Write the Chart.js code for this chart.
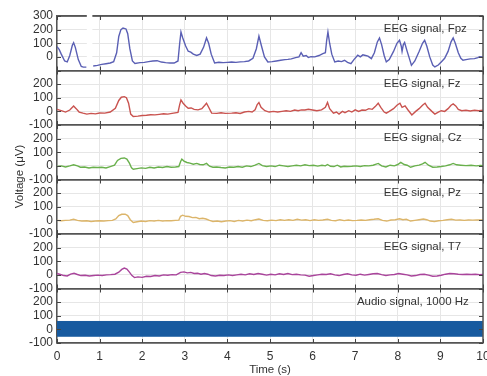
<!DOCTYPE html>
<html><head><meta charset="utf-8">
<script src="https://cdn.jsdelivr.net/npm/chart.js@4.4.1/dist/chart.umd.min.js"></script>
<style>html,body{margin:0;padding:0;background:#fff}#wrap{width:487px;height:376px;position:relative}canvas{display:block}</style>
</head><body><div id="wrap"><canvas id="c" width="487" height="376"></canvas></div>
<script>
// ---- data ----
const xTickValues = [0,1,2,3,4,5,6,7,8,9,10];
const panelLabels = ['EEG signal, Fpz','EEG signal, Fz','EEG signal, Cz','EEG signal, Pz','EEG signal, T7','Audio signal, 1000 Hz'];
const yLabel = 'Voltage (\u03bcV)';
const xLabel = 'Time (s)';

const fpzTime = [0.00,0.05,0.10,0.18,0.24,0.30,0.36,0.39,0.43,0.50,0.57,0.62,0.69,0.77,0.85,0.95,1.05,1.15,1.25,1.33,1.40,1.45,1.50,1.55,1.62,1.66,1.71,1.77,1.83,1.95,2.05,2.15,2.25,2.35,2.45,2.55,2.65,2.75,2.84,2.88,2.91,2.95,3.02,3.08,3.14,3.20,3.28,3.36,3.44,3.51,3.56,3.62,3.70,3.80,3.90,4.00,4.10,4.20,4.30,4.40,4.50,4.60,4.68,4.74,4.80,4.87,4.95,5.05,5.15,5.25,5.35,5.42,5.50,5.60,5.68,5.73,5.78,5.85,5.90,5.96,6.05,6.15,6.24,6.30,6.33,6.36,6.40,6.45,6.52,6.60,6.68,6.75,6.82,6.90,6.97,7.06,7.12,7.18,7.22,7.30,7.38,7.45,7.52,7.57,7.62,7.68,7.73,7.80,7.90,7.98,8.04,8.08,8.10,8.13,8.16,8.22,8.28,8.32,8.40,8.50,8.58,8.63,8.68,8.75,8.82,8.87,8.95,9.02,9.10,9.18,9.25,9.30,9.35,9.42,9.48,9.53,9.60,9.70,9.80,9.88,9.92,10.00];
const fpzValues = [75,55,20,-30,-37,10,85,104,70,-20,-70,-75,-75,null,-67,-62,-55,-50,-45,-35,30,150,200,212,205,170,60,-30,-48,-42,-40,-35,-30,-28,-38,-42,-45,-45,-30,100,183,140,80,41,35,20,10,20,70,139,100,20,-45,-40,-42,-40,-38,-40,-37,-35,-30,-10,60,153,80,0,-37,-35,-30,-25,-20,-18,-15,-5,0,31,5,10,-5,2,0,10,24,30,120,183,100,20,-37,-30,-35,-25,-40,-50,-20,12,0,15,12,5,-13,30,110,139,90,10,-37,-20,40,100,122,80,40,90,105,40,-20,-62,-30,40,100,122,80,0,-60,-74,-60,-37,-10,40,110,139,100,30,-10,-25,-20,-15,-13,-5,2,0];

const fzTime = [0.00,0.10,0.20,0.30,0.39,0.45,0.52,0.61,0.70,0.80,0.90,1.00,1.12,1.25,1.37,1.45,1.51,1.58,1.63,1.68,1.73,1.79,1.90,2.00,2.10,2.20,2.30,2.40,2.50,2.60,2.70,2.84,2.88,2.91,2.96,3.02,3.08,3.15,3.22,3.31,3.40,3.47,3.51,3.56,3.63,3.75,3.85,3.95,4.10,4.20,4.30,4.40,4.50,4.58,4.65,4.70,4.74,4.79,4.88,4.98,5.08,5.18,5.28,5.38,5.48,5.58,5.66,5.74,5.82,5.90,6.00,6.10,6.21,6.30,6.35,6.40,6.49,6.56,6.62,6.70,6.76,6.85,6.92,7.00,7.08,7.16,7.24,7.32,7.40,7.47,7.54,7.60,7.68,7.73,7.80,7.90,7.98,8.05,8.10,8.17,8.24,8.33,8.42,8.50,8.58,8.64,8.70,8.80,8.87,8.95,9.02,9.10,9.18,9.25,9.30,9.36,9.42,9.50,9.60,9.70,9.80,9.90,10.00];
const fzValues = [15,5,-5,10,40,20,-5,-13,-20,-15,-18,-12,-13,-5,23,80,104,108,100,60,-20,-38,-35,-30,-28,-25,-26,-22,-18,-20,-15,-8,50,84,60,40,23,25,15,11,20,45,60,30,-13,-15,-10,-15,-13,-10,-15,-5,0,-5,11,50,65,30,5,-5,0,-5,0,5,0,10,5,11,10,15,10,5,11,30,65,20,-13,-5,-20,0,-10,5,-5,11,0,10,8,20,15,35,60,30,-5,-13,0,20,45,60,30,40,10,-26,0,20,45,60,30,0,-20,-5,5,0,20,45,55,40,15,5,8,3,8,5,8];

const czTime = [0.00,0.10,0.20,0.30,0.39,0.48,0.55,0.65,0.75,0.85,0.95,1.05,1.15,1.25,1.35,1.42,1.50,1.58,1.64,1.70,1.75,1.79,1.88,1.98,2.08,2.18,2.28,2.38,2.48,2.58,2.68,2.78,2.86,2.90,2.93,2.98,3.05,3.12,3.20,3.28,3.35,3.43,3.51,3.58,3.66,3.75,3.85,3.95,4.05,4.15,4.25,4.35,4.45,4.55,4.65,4.74,4.82,4.92,5.02,5.12,5.22,5.32,5.42,5.52,5.62,5.72,5.82,5.92,6.02,6.12,6.22,6.30,6.35,6.42,6.50,6.58,6.66,6.74,6.82,6.92,7.02,7.12,7.22,7.32,7.42,7.54,7.62,7.72,7.82,7.92,8.00,8.07,8.15,8.22,8.30,8.40,8.50,8.58,8.64,8.72,8.82,8.92,9.02,9.12,9.22,9.30,9.38,9.48,9.60,9.72,9.84,9.94,10.00];
const czValues = [-5,0,-8,0,8,0,-10,-8,-15,-10,-12,-10,-15,-5,5,40,55,58,50,20,-15,-25,-20,-15,-18,-10,-15,-8,-12,-5,-10,-8,-5,30,50,35,25,20,12,18,10,8,18,-2,-10,-8,-12,-15,-8,-10,-5,-10,0,-5,5,18,2,-5,0,-5,5,0,-5,0,5,0,8,2,5,-2,5,0,10,-3,-5,5,-8,-3,-5,-3,0,-5,2,0,5,18,0,-8,5,0,10,26,10,5,-10,0,5,15,26,5,-10,-8,-5,0,8,18,8,5,2,5,0,3,2];

const pzTime = [0.00,0.10,0.20,0.30,0.39,0.48,0.58,0.70,0.80,0.90,1.00,1.10,1.20,1.30,1.38,1.45,1.52,1.60,1.66,1.72,1.79,1.88,1.98,2.08,2.18,2.28,2.38,2.48,2.58,2.68,2.78,2.86,2.90,2.95,3.02,3.10,3.18,3.26,3.34,3.42,3.50,3.58,3.66,3.76,3.86,3.96,4.06,4.16,4.26,4.36,4.46,4.56,4.66,4.74,4.84,4.94,5.04,5.14,5.24,5.34,5.44,5.54,5.64,5.74,5.84,5.94,6.04,6.14,6.24,6.35,6.44,6.54,6.64,6.74,6.84,6.94,7.04,7.14,7.24,7.34,7.44,7.54,7.64,7.74,7.84,7.94,8.04,8.12,8.20,8.30,8.40,8.50,8.60,8.68,8.76,8.86,8.96,9.06,9.16,9.26,9.36,9.46,9.56,9.66,9.76,9.86,10.00];
const pzValues = [0,-3,0,2,8,0,-5,-3,-8,-5,-3,-5,-2,0,10,35,45,45,35,5,-15,-10,-5,-8,-2,-5,0,-5,-2,-3,0,2,30,38,30,28,20,22,12,15,10,0,-8,-5,-10,-5,-2,-8,0,-5,2,-3,5,10,0,-3,2,-2,5,0,5,0,8,2,5,-2,5,0,3,8,0,-3,5,-2,3,-2,0,3,0,5,8,12,0,-5,3,5,12,5,8,-5,0,5,10,5,-5,-8,-3,0,5,8,2,3,0,3,2,4,3];

const t7Time = [0.00,0.08,0.16,0.24,0.32,0.40,0.48,0.56,0.66,0.76,0.86,0.96,1.06,1.16,1.26,1.36,1.45,1.52,1.58,1.64,1.70,1.76,1.82,1.90,2.00,2.10,2.20,2.30,2.40,2.50,2.60,2.70,2.80,2.90,2.98,3.06,3.14,3.22,3.30,3.38,3.46,3.54,3.62,3.72,3.82,3.92,4.02,4.12,4.22,4.32,4.42,4.52,4.62,4.72,4.82,4.92,5.02,5.12,5.22,5.32,5.42,5.52,5.62,5.72,5.82,5.92,6.02,6.12,6.22,6.32,6.42,6.52,6.62,6.72,6.82,6.92,7.02,7.12,7.22,7.32,7.42,7.52,7.62,7.72,7.82,7.92,8.02,8.12,8.22,8.32,8.42,8.52,8.62,8.72,8.82,8.92,9.02,9.12,9.22,9.32,9.42,9.52,9.62,9.72,9.82,9.92,10.00];
const t7Values = [10,3,-5,-8,5,12,3,-5,-3,-8,-5,-2,-5,0,2,5,20,40,50,42,20,-5,-20,-15,-18,-10,-12,-5,-8,0,-3,2,0,18,22,15,18,10,12,5,10,5,-5,-8,-3,-5,0,-5,0,5,0,8,3,10,5,-2,5,0,8,3,10,2,5,0,-2,-10,-5,0,5,3,8,0,-5,3,8,0,-3,5,-2,3,8,10,2,-5,0,3,10,5,0,-8,-5,3,5,-2,-10,-8,-3,5,10,8,5,3,5,3,5,2,3];

// audio: 1000 Hz tone, drawn as its envelope
const audioTime = [0, 10];
const audioMax = [58, 58];
const audioMin = [-50, -50];

const gapStart = 0.70, gapEnd = 0.83;
const labelTimes = [7.67, 7.67, 7.67, 7.67, 7.67, 7.04];

// ---- build ----
const pts = (t, v) => t.map((x, i) => ({x, y: v[i]}));
Chart.defaults.font.family = '"Liberation Sans", Arial, sans-serif';

const panelIds = ['yFpz','yFz','yCz','yPz','yT7','yA'];
function yScale(id, isTop){
  return {
    type:'linear', position:'left', stack:'panels', stackWeight:1,
    min:-100, max:300, offset:false,
    ticks:{stepSize:100, autoSkip:false, padding:4, color:'#333', font:{size:12},
      callback: v => (isTop ? v === -100 : v === 300) ? '' : String(v)},
    grid:{drawTicks:false,
      color: c => (c.tick && (c.tick.value === -100 || c.tick.value === 300)) ? '#555' : '#e6e6e6',
      lineWidth: c => (c.tick && (c.tick.value === -100 || c.tick.value === 300)) ? 1.5 : 1},
    border:{display:true, color:'#555', width:1.5},
    afterFit: s => { s.width = 57; s.paddingTop = 0; s.paddingBottom = 0; }
  };
}
const scales = {
  x:{type:'linear', min:0, max:10,
    afterBuildTicks: s => { s.ticks = xTickValues.map(v => ({value:v})); },
    ticks:{padding:6, color:'#333', font:{size:12}, maxRotation:0, autoSkip:false},
    grid:{drawTicks:false, color:'#e6e6e6'},
    border:{display:true, color:'#555', width:1.5},
    afterFit: s => { s.height = 33; s.paddingLeft = 0; s.paddingRight = 0; }
  }
};
// bottom panel first; last defined is placed on top of the stack
for (let i = panelIds.length - 1; i >= 0; i--) scales[panelIds[i]] = yScale(panelIds[i], i === 0);

const line = (data, id, color) => ({data, yAxisID:id, borderColor:color, borderWidth:1.4, pointRadius:0, fill:false, spanGaps:false, tension:0});
const datasets = [
  line(pts(fpzTime, fpzValues), 'yFpz', '#5a5fb4'),
  line(pts(fzTime, fzValues), 'yFz', '#c9534f'),
  line(pts(czTime, czValues), 'yCz', '#69b04c'),
  line(pts(pzTime, pzValues), 'yPz', '#dcb56a'),
  line(pts(t7Time, t7Values), 'yT7', '#a9449b'),
  {data: pts(audioTime, audioMax), yAxisID:'yA', borderColor:'#175a9f', backgroundColor:'#175a9f', borderWidth:1, pointRadius:0, fill:'+1'},
  {data: pts(audioTime, audioMin), yAxisID:'yA', borderColor:'#175a9f', borderWidth:1, pointRadius:0, fill:false}
];

const decor = {
  id:'decor',
  afterDraw(chart){
    const ctx = chart.ctx, a = chart.chartArea, xs = chart.scales.x;
    ctx.save();
    // outer frame (top, right)
    ctx.strokeStyle = '#555'; ctx.lineWidth = 1.5;
    ctx.beginPath(); ctx.moveTo(a.left, a.top); ctx.lineTo(a.right, a.top); ctx.lineTo(a.right, a.bottom); ctx.stroke();
    // inward tick marks
    ctx.strokeStyle = '#444'; ctx.lineWidth = 1;
    ctx.beginPath();
    panelIds.forEach(id => {
      const s = chart.scales[id];
      s.ticks.forEach(t => {
        const y = Math.round(s.getPixelForValue(t.value)) + 0.5;
        ctx.moveTo(a.left, y); ctx.lineTo(a.left + 4, y);
        ctx.moveTo(a.right - 4, y); ctx.lineTo(a.right, y);
      });
      xTickValues.forEach(v => {
        const x = Math.round(xs.getPixelForValue(v)) + 0.5;
        ctx.moveTo(x, s.top); ctx.lineTo(x, s.top + 4);
        ctx.moveTo(x, s.bottom - 4); ctx.lineTo(x, s.bottom);
      });
    });
    ctx.stroke();
    // blank strip in the top panel
    const sF = chart.scales.yFpz;
    const g0 = xs.getPixelForValue(gapStart), g1 = xs.getPixelForValue(gapEnd);
    ctx.fillStyle = '#fff';
    ctx.fillRect(g0, sF.top - 2, g1 - g0, sF.bottom - sF.top - 1);
    // panel labels
    ctx.fillStyle = '#333'; ctx.font = '11.5px "Liberation Sans", Arial, sans-serif';
    ctx.textBaseline = 'middle'; ctx.textAlign = 'left';
    panelIds.forEach((id, i) => {
      const s = chart.scales[id];
      ctx.fillText(panelLabels[i], xs.getPixelForValue(labelTimes[i]), s.top + 13);
    });
    // axis titles
    ctx.font = '11.5px "Liberation Sans", Arial, sans-serif'; ctx.textAlign = 'center';
    ctx.fillText(xLabel, (a.left + a.right) / 2, 370);
    ctx.translate(20, (a.top + a.bottom) / 2 - 3);
    ctx.rotate(-Math.PI / 2);
    ctx.fillText(yLabel, 0, 0);
    ctx.restore();
  }
};

new Chart(document.getElementById('c'), {
  type:'line',
  data:{datasets},
  options:{
    responsive:false, animation:false, devicePixelRatio:1,
    layout:{padding:{top:16, right:4, left:0, bottom:0}},
    plugins:{legend:{display:false}, tooltip:{enabled:false}},
    scales
  },
  plugins:[decor]
});
</script></body></html>
